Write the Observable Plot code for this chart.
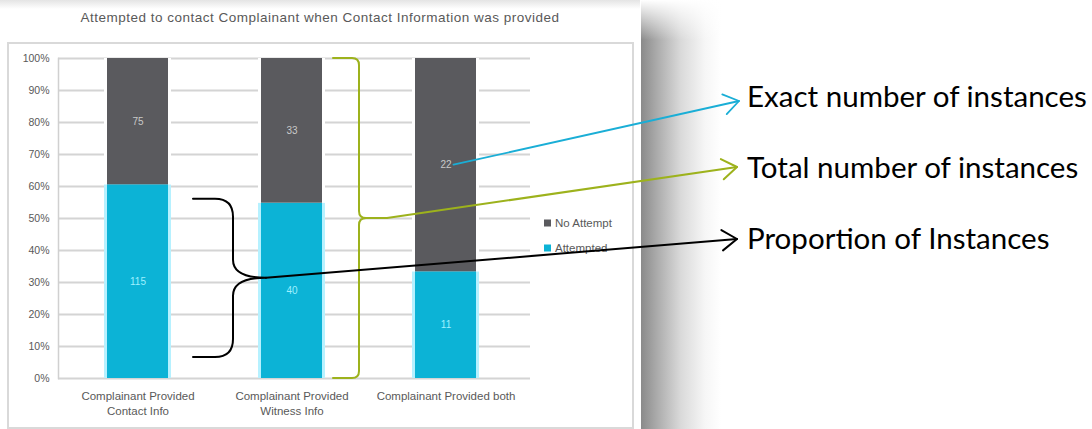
<!DOCTYPE html>
<html>
<head>
<meta charset="utf-8">
<script src="https://cdn.jsdelivr.net/npm/d3@7"></script>
<script src="https://cdn.jsdelivr.net/npm/@observablehq/plot@0.6"></script>
<style>
  html, body { margin: 0; padding: 0; background: #fff; }
  #chart svg { display: block; max-width: none; }
</style>
</head>
<body>
<div id="chart"></div>
<script>
// ---- data ----
const categories = [
  "Complainant Provided\nContact Info",
  "Complainant Provided\nWitness Info",
  "Complainant Provided both"
];
const seriesNames = ["No Attempt", "Attempted"];
const attempted = [115, 40, 11];
const noAttempt = [75, 33, 22];
const yTicks = [0, 0.1, 0.2, 0.3, 0.4, 0.5, 0.6, 0.7, 0.8, 0.9, 1];
const seriesColors = ["#5a5a5e", "#0cb3d6"];
const chartTitle = "Attempted to contact Complainant when Contact Information was provided";
const annotationTexts = ["Exact number of instances", "Total number of instances", "Proportion of Instances"];
const annotationColors = ["#1aaed6", "#9db21c", "#000000"];

// table built from the arrays
const rows = categories.flatMap((c, i) => [
  {category: c, series: "Attempted", value: attempted[i]},
  {category: c, series: "No Attempt", value: noAttempt[i]}
]);

const stackOpts = {x: "category", y: "value", z: "series", offset: "normalize", order: ["Attempted", "No Attempt"]};
const gray = "#595959";

const plot = Plot.plot({
  width: 1092,
  height: 429,
  marginTop: 58,
  marginBottom: 51,
  marginLeft: 58,
  marginRight: 562,
  style: {fontFamily: "'Liberation Sans', Arial, sans-serif", background: "transparent", overflow: "visible"},
  x: {domain: categories, range: [59.75, 523.25], paddingInner: 0.605, paddingOuter: 0.3025, label: null},
  y: {domain: [0, 1], label: null},
  color: {domain: seriesNames, range: seriesColors},
  marks: [
    Plot.ruleY(yTicks, {stroke: "#d4d4d4", strokeWidth: 2}),
    Plot.frame({anchor: "left", stroke: "#d0d0d0", strokeWidth: 1.5}),
    Plot.barY(rows, {...stackOpts, fill: d => d.series === "Attempted" ? "#b6f1ff" : "#ffffff", insetLeft: -3, insetRight: -3}),
    Plot.barY(rows, {...stackOpts, fill: "series"}),
    Plot.text(rows, Plot.stackY({...stackOpts, text: d => String(d.value),
      fill: d => d.series === "Attempted" ? "#9ff0ff" : "#c9c9c9", fontSize: 10})),
    Plot.axisY({ticks: yTicks, tickFormat: d => `${Math.round(d * 100)}%`, tickSize: 0, tickPadding: 9, fontSize: 10.5, fill: gray}),
    Plot.axisX({tickSize: 0, tickPadding: 11, fontSize: 11.5, lineHeight: 1.3, fill: gray})
  ]
});

document.getElementById("chart").appendChild(plot);
const svg = d3.select(plot);
const xs = plot.scale("x");
const ys = plot.scale("y");

// ---- background: page frame & shadow ----
const bg = svg.insert("g", ":first-child");
const defs = svg.insert("defs", ":first-child");
const sg = defs.append("linearGradient").attr("id", "shadowGrad").attr("x1", 0).attr("x2", 1).attr("y1", 0).attr("y2", 0);
[[0, "#8a8a8a"], [0.2, "#ababab"], [0.5, "#dadada"], [0.8, "#f6f6f6"], [1, "#ffffff"]]
  .forEach(([o, c]) => sg.append("stop").attr("offset", o).attr("stop-color", c));
const tg = defs.append("linearGradient").attr("id", "topGrad").attr("x1", 0).attr("x2", 0).attr("y1", 0).attr("y2", 1);
tg.append("stop").attr("offset", 0).attr("stop-color", "#e4e4e4");
tg.append("stop").attr("offset", 1).attr("stop-color", "#ffffff");
const fg = defs.append("linearGradient").attr("id", "fadeGrad").attr("x1", 0).attr("x2", 0).attr("y1", 0).attr("y2", 1);
fg.append("stop").attr("offset", 0).attr("stop-color", "#ffffff").attr("stop-opacity", 1);
fg.append("stop").attr("offset", 1).attr("stop-color", "#ffffff").attr("stop-opacity", 0);

bg.append("rect").attr("x", 641).attr("y", 0).attr("width", 80).attr("height", 429).attr("fill", "url(#shadowGrad)");
bg.append("rect").attr("x", 636).attr("y", 0).attr("width", 90).attr("height", 40).attr("fill", "url(#fadeGrad)");
bg.append("rect").attr("x", 0).attr("y", 0).attr("width", 640).attr("height", 9).attr("fill", "url(#topGrad)");
bg.append("rect").attr("x", 8).attr("y", 43).attr("width", 625).attr("height", 385)
  .attr("fill", "#ffffff").attr("stroke", "#d9d9d9").attr("stroke-width", 2);

// ---- title ----
svg.append("text").attr("x", 320).attr("y", 22).attr("text-anchor", "middle")
  .attr("font-family", "'Liberation Sans', Arial, sans-serif").attr("font-size", 13.5)
  .attr("letter-spacing", 0.5).attr("fill", gray)
  .text(chartTitle);

// ---- legend ----
const leg = svg.append("g").attr("font-family", "'Liberation Sans', Arial, sans-serif").attr("font-size", 11.5)
  .attr("fill", gray).attr("text-anchor", "start");
seriesNames.forEach((s, i) => {
  const cy = 223 + i * 25;
  leg.append("rect").attr("x", 544).attr("y", cy - 3.5).attr("width", 7).attr("height", 7).attr("fill", seriesColors[i]);
  leg.append("text").attr("x", 555).attr("y", cy + 4).text(s);
});

// ---- annotations ----
const ann = svg.append("g").attr("fill", "none").attr("stroke-linecap", "round").attr("stroke-linejoin", "round");
function arrowHead(px, py, tx, ty, color, w) {
  const a = Math.atan2(ty - py, tx - px), L = 18, h = 0.6;
  const p1 = [tx - L * Math.cos(a - h), ty - L * Math.sin(a - h)];
  const p2 = [tx - L * Math.cos(a + h), ty - L * Math.sin(a + h)];
  ann.append("path").attr("d", `M${p1}L${tx},${ty}L${p2}`).attr("stroke", color).attr("stroke-width", w);
}
function brace(x0, xv, xt, yT, yM, yB, r, color, w) {
  const d = `M${x0},${yT}L${xv - r},${yT}Q${xv},${yT} ${xv},${yT + r}L${xv},${yM - r}Q${xv},${yM} ${xt},${yM}` +
            `Q${xv},${yM} ${xv},${yM + r}L${xv},${yB - r}Q${xv},${yB} ${xv - r},${yB}L${x0},${yB}`;
  ann.append("path").attr("d", d).attr("stroke", color).attr("stroke-width", w);
}
const textX = 747, baselines = [107, 178, 249];
const tips = [[739, 101], [737, 167], [737, 239]];

// cyan: from label of bar 3 (No Attempt segment)
const c3 = xs.apply(categories[2]) + xs.bandwidth / 2;
const t3 = attempted[2] + noAttempt[2];
const yLab = ys.apply((attempted[2] / t3 + 1) / 2);
ann.append("path").attr("d", `M${c3 + 8},${yLab}L${tips[0]}`).attr("stroke", annotationColors[0]).attr("stroke-width", 1.8);
arrowHead(c3 + 8, yLab, ...tips[0], annotationColors[0], 1.8);

// green: brace over full bar height next to bar 2
const gy0 = ys.apply(1), gy1 = ys.apply(0), gym = ys.apply(0.5);
brace(333, 359, 366, gy0, gym, gy1, 7, annotationColors[1], 2);
ann.append("path").attr("d", `M366,${gym}L387,${gym}L${tips[1]}`).attr("stroke", annotationColors[1]).attr("stroke-width", 2);
arrowHead(387, gym, ...tips[1], annotationColors[1], 2);

// black: proportion brace between bar 1 and 2
const by0 = ys.apply(0.56), by1 = ys.apply(0.066), bym = (by0 + by1) / 2;
brace(193, 233, 266, by0, bym, by1, 18, annotationColors[2], 2);
ann.append("path").attr("d", `M266,${bym}L${tips[2]}`).attr("stroke", annotationColors[2]).attr("stroke-width", 2);
arrowHead(266, bym, ...tips[2], annotationColors[2], 2);

// annotation texts
const atexts = annotationTexts.map((t, i) => svg.append("text").attr("x", textX).attr("y", baselines[i])
  .attr("text-anchor", "start")
  .attr("font-family", "Lato, 'Open Sans', sans-serif").attr("font-size", 100).attr("fill", "#000").text(t));
const len = atexts[0].node().getComputedTextLength();
const fs = 100 * 340 / len;
atexts.forEach(t => t.attr("font-size", fs));
</script>
</body>
</html>
